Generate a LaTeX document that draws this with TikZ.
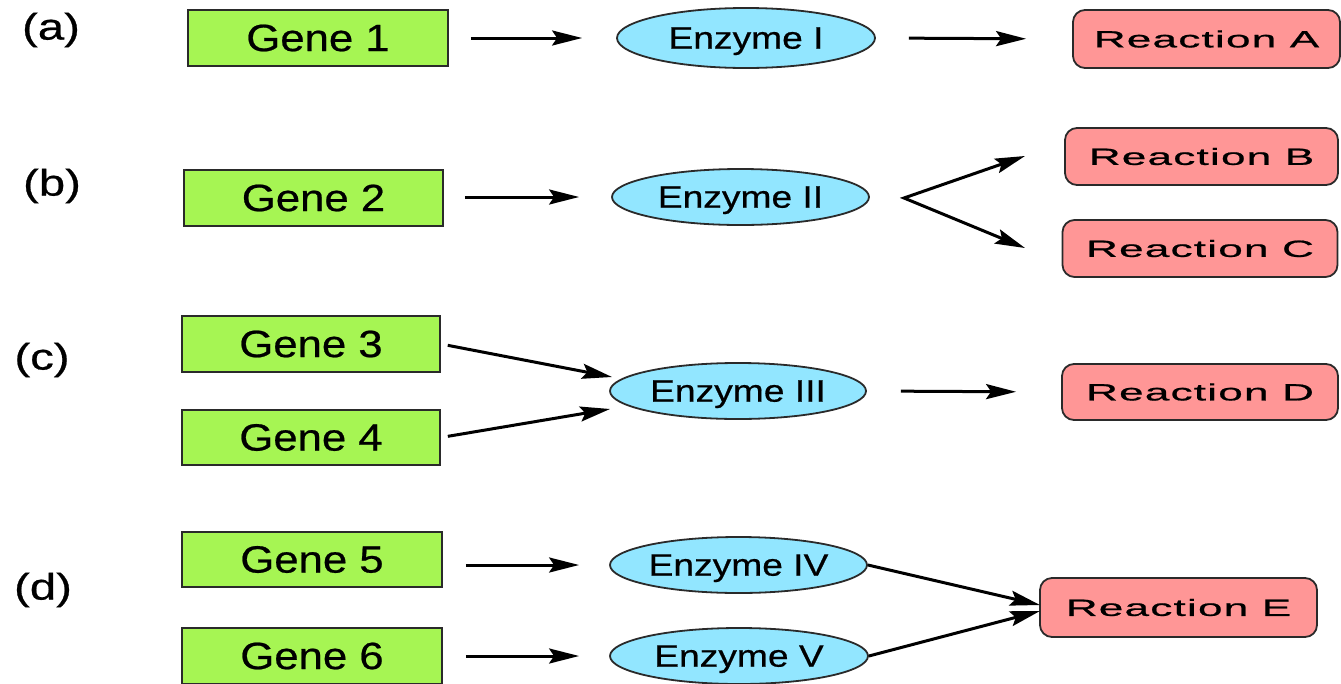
\documentclass[tikz,border=0pt]{standalone}
\usepackage{fontspec}
\setmainfont{Liberation Sans}
\newfontfamily\genefont[FakeStretch=1.15,FakeBold=0.6]{Liberation Sans}
\newfontfamily\enzfont[FakeStretch=1.2,FakeBold=0.6]{Liberation Sans}
\newfontfamily\reacfont[FakeStretch=1.88,LetterSpace=5,FakeBold=0.8]{Liberation Sans}
\newfontfamily\labfont[FakeStretch=1.28,FakeBold=0.6]{Liberation Sans}
\usetikzlibrary{arrows.meta,shapes.geometric,calc}
\definecolor{geneG}{HTML}{A6F553}
\definecolor{enzB}{HTML}{92E6FF}
\definecolor{reacR}{HTML}{FF9696}
\definecolor{edgeC}{HTML}{2A2A2A}
\tikzset{
  genebox/.style={rectangle,draw=edgeC,fill=geneG,line width=1.8pt,inner sep=0pt,
    minimum width=259pt,minimum height=56pt,font=\genefont\fontsize{38}{40}\selectfont},
  enzbox/.style={ellipse,draw=edgeC,fill=enzB,line width=1.8pt,inner sep=0pt,text depth=0pt,
    minimum width=257pt,minimum height=56pt,font=\enzfont\fontsize{31}{33}\selectfont},
  reacbox/.style={rectangle,rounded corners=12pt,draw=edgeC,fill=reacR,line width=1.8pt,inner sep=0pt,
    minimum width=274pt,minimum height=57pt,font=\reacfont\fontsize{23.5}{25}\selectfont},
  lab/.style={inner sep=0pt,font=\labfont\fontsize{37}{40}\selectfont},
  arr/.style={line width=3pt,-{Stealth[length=30pt,width=15pt,inset=5pt]}},
  arrb/.style={line width=3pt,{Stealth[length=30pt,width=15pt,inset=5pt]}-{Stealth[length=30pt,width=15pt,inset=5pt]}},
}
\begin{document}
\begin{tikzpicture}[x=1pt,y=-1pt]
\useasboundingbox (0,0) rectangle (1341,683);
% labels
\node[lab] (la) at (51,30) {(a)};
\node[lab] (lb) at (52,186) {(b)};
\node[lab] (lc) at (42,360) {(c)};
\node[lab] (ld) at (43,590) {(d)};
% genes
\node[genebox,minimum width=260pt] (g1) at (318,38) {Gene 1};
\node[genebox] (g2) at (313.5,198) {Gene 2};
\node[genebox,minimum width=258pt] (g3) at (311,344) {Gene 3};
\node[genebox,minimum width=258pt,minimum height=55pt] (g4) at (311,437.5) {Gene 4};
\node[genebox,minimum width=260pt,minimum height=55pt] (g5) at (312,559.5) {Gene 5};
\node[genebox,minimum width=260pt] (g6) at (312,656) {Gene 6};
% enzymes
\node[enzbox,minimum width=258pt,minimum height=60pt] (e1) at (746,38) {Enzyme I};
\node[enzbox] (e2) at (740.5,197) {Enzyme II};
\node[enzbox,minimum width=256pt] (e3) at (738,391) {Enzyme III};
\node[enzbox] (e4) at (738.5,565) {Enzyme IV};
\node[enzbox,minimum width=258pt] (e5) at (739,656) {Enzyme V};
% reactions
\node[reacbox,minimum width=267pt,minimum height=58pt] (rA) at (1206.5,39) {Reaction A};
\node[reacbox,minimum width=273pt] (rB) at (1201.5,156.5) {Reaction B};
\node[reacbox,minimum width=275pt] (rC) at (1200,248.5) {Reaction C};
\node[reacbox,minimum width=276pt,minimum height=56pt] (rD) at (1200,392) {Reaction D};
\node[reacbox,minimum width=277pt,minimum height=59pt] (rE) at (1178.5,607.5) {Reaction E};
% coordinates for free ends
\coordinate (split) at (904,198);
\coordinate (tipB) at (1025,156);
\coordinate (tipC) at (1025,248);
\coordinate (t3) at (612,377);
\coordinate (t4) at (610,409);
\coordinate (tE1) at (1040,605);
\coordinate (tE2) at (1040,611);
% connectors
\draw[arr,shorten <=22pt,shorten >=34pt] (g1.east) -- (e1.west);
\draw[arr,shorten <=33pt,shorten >=46pt] (e1.east) -- (rA.west);
\draw[arr,shorten <=21pt,shorten >=32pt] (g2.east |- e2.west) -- (e2.west);
\draw[arrb] (tipB) -- (split) -- (tipC);
\draw[arr,shorten <=7pt] (g3.east) -- (t3);
\draw[arr,shorten <=7pt] (g4.east) -- (t4);
\draw[arr,shorten <=34pt,shorten >=45pt] (e3.east) -- (rD.west);
\draw[arr,shorten <=23pt,shorten >=30pt] (g5.east |- e4.west) -- (e4.west);
\draw[arr,shorten <=23pt,shorten >=30pt] (g6.east) -- (e5.west);
\draw[arr] (e4.east) -- (tE1);
\draw[arr] (e5.east) -- (tE2);
\end{tikzpicture}
\end{document}
